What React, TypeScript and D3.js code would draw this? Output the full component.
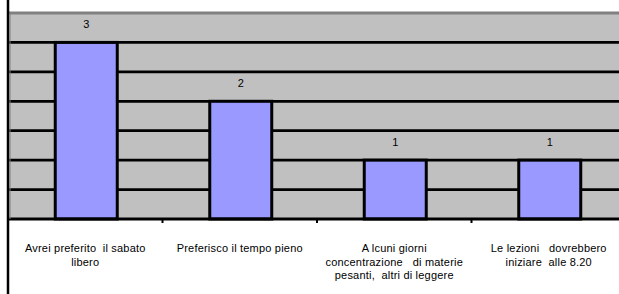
import React from "react";
import * as d3 from "d3";

const categories: string[][] = [
  ["Avrei preferito  il sabato", "libero"],
  ["Preferisco il tempo pieno"],
  ["A lcuni giorni", "concentrazione   di materie", "pesanti,  altri di leggere"],
  ["Le lezioni   dovrebbero", "iniziare  alle 8.20"],
];
const values: number[] = [3, 2, 1, 1];
const gridTicks: number[] = [0.5, 1, 1.5, 2, 2.5, 3];

const W = 619;
const H = 294;
const left = 8;
const top = 13;
const bottom = 219;
const step = 154.5;

export default function App() {
  const ids = categories.map((_, i) => String(i));
  const x = d3
    .scaleBand<string>()
    .domain(ids)
    .range([left, left + step * ids.length])
    .paddingInner(0)
    .paddingOuter(0);
  const y = d3.scaleLinear().domain([0, 3.5]).range([bottom, top]);
  const barW = 62;

  return (
    <svg
      width={W}
      height={H}
      style={{ position: "absolute", left: 0, top: 0, background: "#fff" }}
      fontFamily="'Liberation Sans', Arial, sans-serif"
    >
      <rect x={left} y={top} width={W - left + 20} height={bottom - top} fill="#C0C0C0" />
      <line x1={left} x2={W + 10} y1={y(3.5)} y2={y(3.5)} stroke="#808080" strokeWidth={3} />
      {gridTicks.map((t) => (
        <line key={t} x1={left} x2={W + 10} y1={y(t)} y2={y(t)} stroke="#000" strokeWidth={2.8} />
      ))}
      {values.map((v, i) => {
        const cx = (x(String(i)) as number) + x.bandwidth() / 2 + 1;
        return (
          <g key={i}>
            <rect
              x={cx - barW / 2}
              y={y(v)}
              width={barW}
              height={bottom - y(v)}
              fill="#9999FF"
              stroke="#000"
              strokeWidth={3}
            />
            <text x={cx} y={y(v) - 14} textAnchor="middle" fontSize={11} fill="#000">
              {v}
            </text>
          </g>
        );
      })}
      <line x1={left} x2={W + 10} y1={bottom} y2={bottom} stroke="#000" strokeWidth={3} />
      {ids.map((id, i) => {
        const xx = x(id) as number;
        return i === 0 ? null : (
          <line key={id} x1={xx} x2={xx} y1={bottom} y2={bottom + 4} stroke="#000" strokeWidth={2} />
        );
      })}
      <line x1={left} x2={left} y1={0} y2={H} stroke="#000" strokeWidth={2.5} />
      <line x1={left + 2} x2={left + 2} y1={top} y2={bottom} stroke="#808080" strokeWidth={1} />
      {categories.map((lines, i) => {
        const cx = (x(String(i)) as number) + x.bandwidth() / 2;
        return (
          <text
            key={i}
            textAnchor="middle"
            fontSize={11}
            fill="#000"
            letterSpacing={0.2}
            style={{ whiteSpace: "pre" }}
          >
            {lines.map((l, j) => (
              <tspan key={j} x={cx} y={252 + j * 13.7}>
                {l}
              </tspan>
            ))}
          </text>
        );
      })}
    </svg>
  );
}
